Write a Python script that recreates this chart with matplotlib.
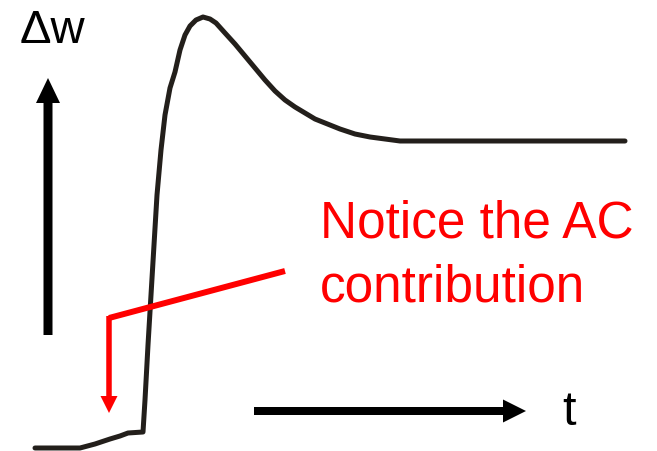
import matplotlib
matplotlib.use("Agg")
import matplotlib.pyplot as plt
from matplotlib.patches import FancyArrow

# response curve (pixel-like units, y grows downward)
t_pts = [35, 80, 95, 110, 120, 128, 143, 145, 148, 151, 154, 157, 161, 165, 170,
         175, 180, 185, 190, 196, 203, 210, 216, 225, 235, 245, 255, 265, 275,
         285, 295, 305, 315, 325, 340, 355, 370, 385, 400, 420, 625]
dw_pts = [448, 448, 444, 439, 436, 433, 432, 400, 345, 295, 245, 195, 150, 115, 88,
          72, 50, 35, 26, 20, 17, 19, 23, 33, 44, 56, 68, 80, 91,
          100, 107, 113, 119, 123, 129, 134, 137, 139, 141, 141, 141]

y_label = "\u0394w"
x_label = "t"
note_lines = ["Notice the AC", "contribution"]

plt.rcParams['font.family'] = ['Liberation Sans', 'DejaVu Sans']

fig = plt.figure(figsize=(6.57, 4.51), dpi=100)
ax = fig.add_axes([0, 0, 1, 1])
ax.set_xlim(0, 657)
ax.set_ylim(451, 0)
ax.axis('off')

ax.plot(t_pts, dw_pts, color='#231f1b', lw=3.6, solid_joinstyle='round',
        solid_capstyle='round')

# axis arrows
ax.add_patch(FancyArrow(48, 335, 0, -257, width=9, head_width=24, head_length=25,
                        length_includes_head=True, color='black', lw=0))
ax.add_patch(FancyArrow(254, 411, 272, 0, width=8, head_width=23, head_length=23,
                        length_includes_head=True, color='black', lw=0))
ax.text(20, 43, y_label, fontsize=34, color='black', va='baseline', ha='left')
ax.text(562, 425, x_label, fontsize=35, color='black', va='baseline', ha='left')

# red note with pointer
ax.text(320, 237, note_lines[0], fontsize=37, color='#ff0000', va='baseline', ha='left')
ax.text(320, 302, note_lines[1], fontsize=37, color='#ff0000', va='baseline', ha='left')
ax.plot([285, 109], [271, 318], color='#ff0000', lw=4.3, solid_capstyle='butt')
ax.add_patch(FancyArrow(109, 316, 0, 97, width=5.5, head_width=17, head_length=17,
                        length_includes_head=True, color='#ff0000', lw=0))

fig.savefig("out.png", dpi=100)
